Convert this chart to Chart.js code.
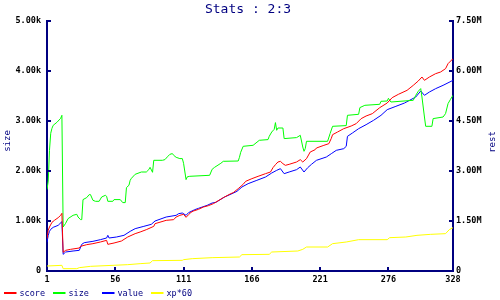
<!DOCTYPE html>
<html><head><meta charset="utf-8">
<script src="https://cdn.jsdelivr.net/npm/chart.js@4/dist/chart.umd.min.js"></script>
<style>html,body{margin:0;padding:0;background:#fff}</style>
</head><body>
<canvas id="c" width="500" height="300"></canvas>
<script>
const chartTitle = 'Stats : 2:3';
const leftAxisTitle = 'size';
const rightAxisTitle = 'rest';
const seriesNames = ['score', 'size', 'value', 'xp*60'];
const seriesColors = ['#ff0000', '#00ff00', '#0000ff', '#ffff00'];
const xTickValues = [1, 56, 111, 166, 221, 276, 328];
const leftTickValues = [0, 1000, 2000, 3000, 4000, 5000];
const rightTickValues = [0, 1500000, 3000000, 4500000, 6000000, 7500000];

const scoreX = [1,2,3,5,7,10,12,13,14,16,20,27,28,33,38,44,49,50,55,61,66,72,76,81,87,88,97,103,105,108,111,113,115,117,119,123,127,131,135,143,149,151,155,159,161,166,171,177,181,183,185,187,189,191,193,196,202,205,207,210,213,217,218,224,228,230,231,235,240,246,250,254,258,263,269,275,279,284,291,296,300,303,305,309,314,318,322,324,328];
const scoreY = [970000,1220000,1320000,1460000,1520000,1600000,1670000,1730000,560000,620000,650000,690000,740000,790000,820000,870000,920000,800000,840000,900000,1020000,1120000,1170000,1240000,1340000,1420000,1520000,1540000,1620000,1670000,1700000,1610000,1690000,1760000,1800000,1850000,1920000,1960000,2020000,2200000,2320000,2350000,2470000,2600000,2690000,2770000,2840000,2920000,2970000,3100000,3190000,3270000,3290000,3220000,3170000,3200000,3270000,3340000,3270000,3370000,3570000,3640000,3690000,3770000,3820000,3980000,4090000,4170000,4270000,4350000,4420000,4570000,4650000,4720000,4900000,5040000,5200000,5300000,5420000,5570000,5700000,5820000,5720000,5820000,5920000,5970000,6070000,6220000,6370000];

const sizeX = [1,2,3,4,5,6,9,12,13,14,16,18,22,25,26,28,29,30,33,35,36,38,40,43,45,48,49,50,54,55,60,62,64,65,67,68,69,72,77,81,83,84,86,87,94,96,98,100,102,103,105,108,110,111,113,114,116,132,134,136,141,143,155,156,157,159,167,172,179,180,182,184,185,186,187,191,192,202,205,207,208,209,210,227,229,231,242,243,252,253,257,269,270,275,276,278,296,298,300,302,303,305,306,311,312,320,322,324,326,328];
const sizeY = [1630,1800,2414,2754,2854,2914,2974,3054,3114,880,954,1048,1114,1134,1080,1028,1028,1428,1468,1528,1528,1414,1394,1394,1480,1514,1494,1394,1394,1428,1428,1368,1368,1668,1714,1814,1854,1934,1980,1980,2028,2074,1974,2214,2214,2228,2284,2334,2348,2314,2274,2248,2248,2154,1828,1884,1894,1914,2034,2074,2154,2194,2200,2274,2374,2494,2514,2614,2628,2694,2780,2834,2968,2814,2860,2860,2648,2668,2714,2480,2394,2448,2594,2594,2748,2894,2908,3114,3134,3268,3314,3334,3394,3400,3454,3380,3414,3514,3594,3648,3480,3080,2894,2894,3048,3080,3148,3348,3434,3514];

const valueX = [1,2,3,4,6,10,13,14,16,22,27,29,31,38,44,49,50,51,57,63,68,72,79,85,88,97,105,107,110,113,115,120,123,130,134,137,144,150,154,158,163,170,177,182,186,189,192,196,202,205,208,211,214,218,226,230,234,240,242,243,247,252,258,264,270,275,282,289,293,298,302,305,309,314,320,328];
const valueY = [860000,1070000,1190000,1250000,1310000,1370000,1480000,500000,570000,600000,620000,800000,850000,890000,940000,990000,1070000,990000,1020000,1070000,1190000,1270000,1340000,1400000,1500000,1620000,1670000,1720000,1740000,1670000,1750000,1840000,1880000,1970000,2040000,2060000,2220000,2320000,2390000,2520000,2620000,2720000,2820000,2940000,3020000,3070000,2920000,2970000,3040000,3120000,2970000,3100000,3200000,3320000,3420000,3520000,3620000,3670000,3740000,4040000,4140000,4270000,4390000,4520000,4670000,4840000,4940000,5040000,5120000,5220000,5400000,5270000,5370000,5470000,5570000,5720000];

const xpX = [1,13,14,25,27,36,66,76,84,86,110,111,118,134,156,158,180,182,203,207,210,227,231,242,252,275,277,290,299,310,322,325,328];
const xpY = [150000,170000,70000,70000,100000,140000,190000,220000,240000,310000,320000,340000,370000,400000,420000,490000,500000,570000,600000,650000,720000,720000,820000,870000,940000,940000,1000000,1020000,1070000,1100000,1120000,1240000,1300000];

const NAVY = '#000080';
const MONO = "'DejaVu Sans Mono', 'Liberation Mono', monospace";

function pts(xs, ys) { return xs.map((x, i) => ({ x: x, y: ys[i] })); }

const decorPlugin = {
  id: 'decor',
  afterDraw(chart) {
    const ctx = chart.ctx;
    const ca = chart.chartArea;
    const sx = chart.scales.x, sy = chart.scales.y, sy2 = chart.scales.y2;
    ctx.save();
    // inward tick marks
    ctx.strokeStyle = NAVY;
    ctx.lineWidth = 2;
    ctx.beginPath();
    xTickValues.forEach(v => { const p = Math.round(sx.getPixelForValue(v)); ctx.moveTo(p, ca.bottom); ctx.lineTo(p, ca.bottom - 4); });
    leftTickValues.forEach(v => { const p = Math.round(sy.getPixelForValue(v)); ctx.moveTo(ca.left, p); ctx.lineTo(ca.left + 4, p); });
    rightTickValues.forEach(v => { const p = Math.round(sy2.getPixelForValue(v)); ctx.moveTo(ca.right, p); ctx.lineTo(ca.right - 4, p); });
    ctx.stroke();
    // title
    ctx.fillStyle = NAVY;
    ctx.font = '13px ' + MONO;
    ctx.textAlign = 'center';
    ctx.textBaseline = 'alphabetic';
    ctx.fillText(chartTitle, 248, 12.5);
    // axis titles
    ctx.font = '9px ' + MONO;
    ctx.save();
    ctx.translate(8, 141);
    ctx.rotate(-Math.PI / 2);
    ctx.textBaseline = 'middle';
    ctx.fillText(leftAxisTitle, 0, 0);
    ctx.restore();
    ctx.save();
    ctx.translate(493, 142);
    ctx.rotate(-Math.PI / 2);
    ctx.textBaseline = 'middle';
    ctx.fillText(rightAxisTitle, 0, 0);
    ctx.restore();
    // legend
    ctx.font = '8.5px ' + MONO;
    ctx.textAlign = 'left';
    ctx.textBaseline = 'alphabetic';
    chart.data.datasets.forEach((ds, i) => {
      const x0 = 4 + i * 49;
      ctx.strokeStyle = ds.borderColor;
      ctx.lineWidth = 2;
      ctx.beginPath();
      ctx.moveTo(x0, 293);
      ctx.lineTo(x0 + 12.5, 293);
      ctx.stroke();
      ctx.fillStyle = NAVY;
      ctx.fillText(ds.label, x0 + 15.5, 296);
    });
    ctx.restore();
  }
};

const tickFont = { family: MONO, size: 8.5, weight: 'bold' };

new Chart(document.getElementById('c'), {
  type: 'line',
  data: {
    datasets: [
      { label: seriesNames[0], data: pts(scoreX, scoreY), borderColor: seriesColors[0], yAxisID: 'y2' },
      { label: seriesNames[1], data: pts(sizeX, sizeY), borderColor: seriesColors[1], yAxisID: 'y' },
      { label: seriesNames[2], data: pts(valueX, valueY), borderColor: seriesColors[2], yAxisID: 'y2' },
      { label: seriesNames[3], data: pts(xpX, xpY), borderColor: seriesColors[3], yAxisID: 'y2' }
    ]
  },
  options: {
    responsive: false,
    animation: false,
    layout: { padding: { top: 21, left: 0, right: 0, bottom: 0 } },
    elements: { point: { radius: 0 }, line: { borderWidth: 1, tension: 0, fill: false } },
    plugins: { legend: { display: false }, title: { display: false }, tooltip: { enabled: false } },
    scales: {
      x: {
        type: 'linear', min: 1, max: 328,
        afterBuildTicks: s => { s.ticks = xTickValues.map(v => ({ value: v })); },
        afterFit: s => { s.height = 29; },
        grid: { drawOnChartArea: false, drawTicks: false },
        border: { color: NAVY, width: 2 },
        ticks: { padding: 4, font: tickFont, color: '#000', autoSkip: false, maxRotation: 0, callback: v => String(v) }
      },
      y: {
        position: 'left', min: 0, max: 5000,
        afterBuildTicks: s => { s.ticks = leftTickValues.map(v => ({ value: v })); },
        afterFit: s => { s.width = 47; },
        grid: { drawOnChartArea: false, drawTicks: false },
        border: { color: NAVY, width: 2 },
        ticks: { padding: 6, font: tickFont, color: '#000', callback: v => v === 0 ? '0' : (v / 1000).toFixed(2) + 'k' }
      },
      y2: {
        position: 'right', min: 0, max: 7500000,
        afterBuildTicks: s => { s.ticks = rightTickValues.map(v => ({ value: v })); },
        afterFit: s => { s.width = 47; },
        grid: { drawOnChartArea: false, drawTicks: false },
        border: { color: NAVY, width: 2 },
        ticks: { padding: 3, font: tickFont, color: '#000', callback: v => v === 0 ? '0' : (v / 1000000).toFixed(2) + 'M' }
      }
    }
  },
  plugins: [decorPlugin]
});
</script>
</body></html>
